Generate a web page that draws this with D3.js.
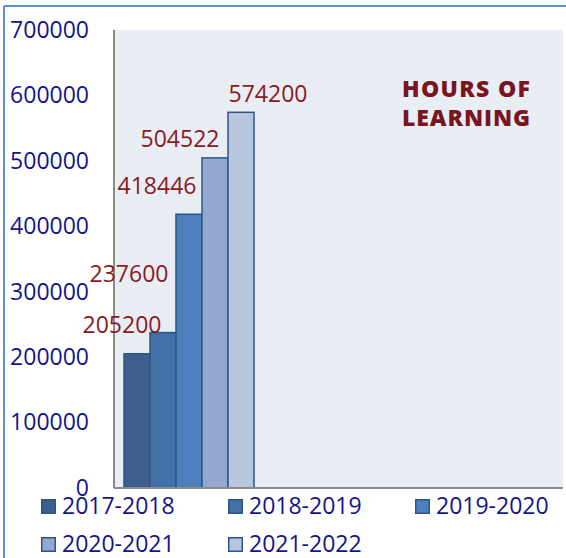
<!DOCTYPE html>
<html><head><meta charset="utf-8">
<script src="https://cdn.jsdelivr.net/npm/d3@7/dist/d3.min.js"></script>
<style>body{margin:0;background:#fff;}svg{display:block;}</style>
</head><body>
<svg id="c" width="566" height="558"></svg>
<script>
const series = ["2017-2018","2018-2019","2019-2020","2020-2021","2021-2022"];
const values = [205200, 237600, 418446, 504522, 574200];
const yTicks = [0,100000,200000,300000,400000,500000,600000,700000];
const titleLines = ["HOURS OF","LEARNING"];

// layout/styling (not data)
const colors = ["#3b5e8c","#4370a6","#4b7fbd","#94a9d1","#b9c6e0"];
const labelOffsets = [[-15,-21],[-34,-51],[-32,-20],[-35,-11],[27,-10]];

const svg = d3.select("#c");
const font = "'Open Sans', sans-serif";
const plot = {left:114, right:563, top:30, bottom:488};

// outer frame lines
svg.append("line").attr("x1",4).attr("x2",566).attr("y1",6).attr("y2",6).attr("stroke","#5b8fd6").attr("stroke-width",2);
svg.append("line").attr("x1",4).attr("x2",4).attr("y1",6).attr("y2",558).attr("stroke","#5b8fd6").attr("stroke-width",2);

svg.append("rect").attr("x",plot.left).attr("y",plot.top)
  .attr("width",plot.right-plot.left).attr("height",plot.bottom-plot.top).attr("fill","#e9edf4");

const y = d3.scaleLinear().domain([0,700000]).range([plot.bottom, plot.top]);
const x = d3.scaleBand().domain(series).range([124, 254]).paddingInner(0);

const yAxis = svg.append("g").attr("transform",`translate(${plot.left},0)`)
  .call(d3.axisLeft(y).tickValues(yTicks).tickSize(0).tickPadding(25).tickFormat(d3.format("d")));
yAxis.select(".domain").remove();
yAxis.selectAll("text").attr("font-family",font).attr("font-size",23).attr("fill","#14148c");

svg.append("g").selectAll("rect").data(values).join("rect")
  .attr("x",(d,i)=>x(series[i]))
  .attr("y",d=>y(d))
  .attr("width",x.bandwidth())
  .attr("height",d=>y(0)-y(d))
  .attr("fill",(d,i)=>colors[i])
  .attr("stroke","#2f5584").attr("stroke-width",1.5);

// axis lines
svg.append("line").attr("x1",plot.left).attr("x2",plot.left).attr("y1",plot.top).attr("y2",plot.bottom)
  .attr("stroke","#8a8a8a").attr("stroke-width",2);
svg.append("line").attr("x1",plot.left).attr("x2",plot.right).attr("y1",plot.bottom).attr("y2",plot.bottom)
  .attr("stroke","#8a8a8a").attr("stroke-width",2);

svg.append("g").selectAll("text").data(values).join("text")
  .attr("x",(d,i)=>x(series[i])+x.bandwidth()/2+labelOffsets[i][0])
  .attr("y",(d,i)=>y(d)+labelOffsets[i][1])
  .attr("text-anchor","middle").attr("font-family",font).attr("font-size",23)
  .attr("fill","#8b1a1f").text(d=>d);

svg.append("g").selectAll("text").data(titleLines).join("text")
  .attr("x",466).attr("y",(d,i)=>97+i*28.5)
  .attr("text-anchor","middle").attr("font-family",font).attr("font-weight",800)
  .attr("font-size",23).attr("fill","#7a1520")
  .attr("textLength",128).attr("lengthAdjust","spacing").text(d=>d);

// legend
const legCols = [41, 228, 415];
const legRows = [499, 537];
const leg = svg.append("g").selectAll("g").data(series).join("g")
  .attr("transform",(d,i)=>`translate(${legCols[i%3]},${legRows[Math.floor(i/3)]})`);
leg.append("rect").attr("x",0.75).attr("y",0.75).attr("width",13.5).attr("height",13.5)
  .attr("fill",(d,i)=>colors[i]).attr("stroke","#2f5584").attr("stroke-width",1.5);
leg.append("text").attr("x",21).attr("y",15).attr("font-family",font).attr("font-size",23)
  .attr("fill","#14148c").text(d=>d);
</script>
</body></html>
